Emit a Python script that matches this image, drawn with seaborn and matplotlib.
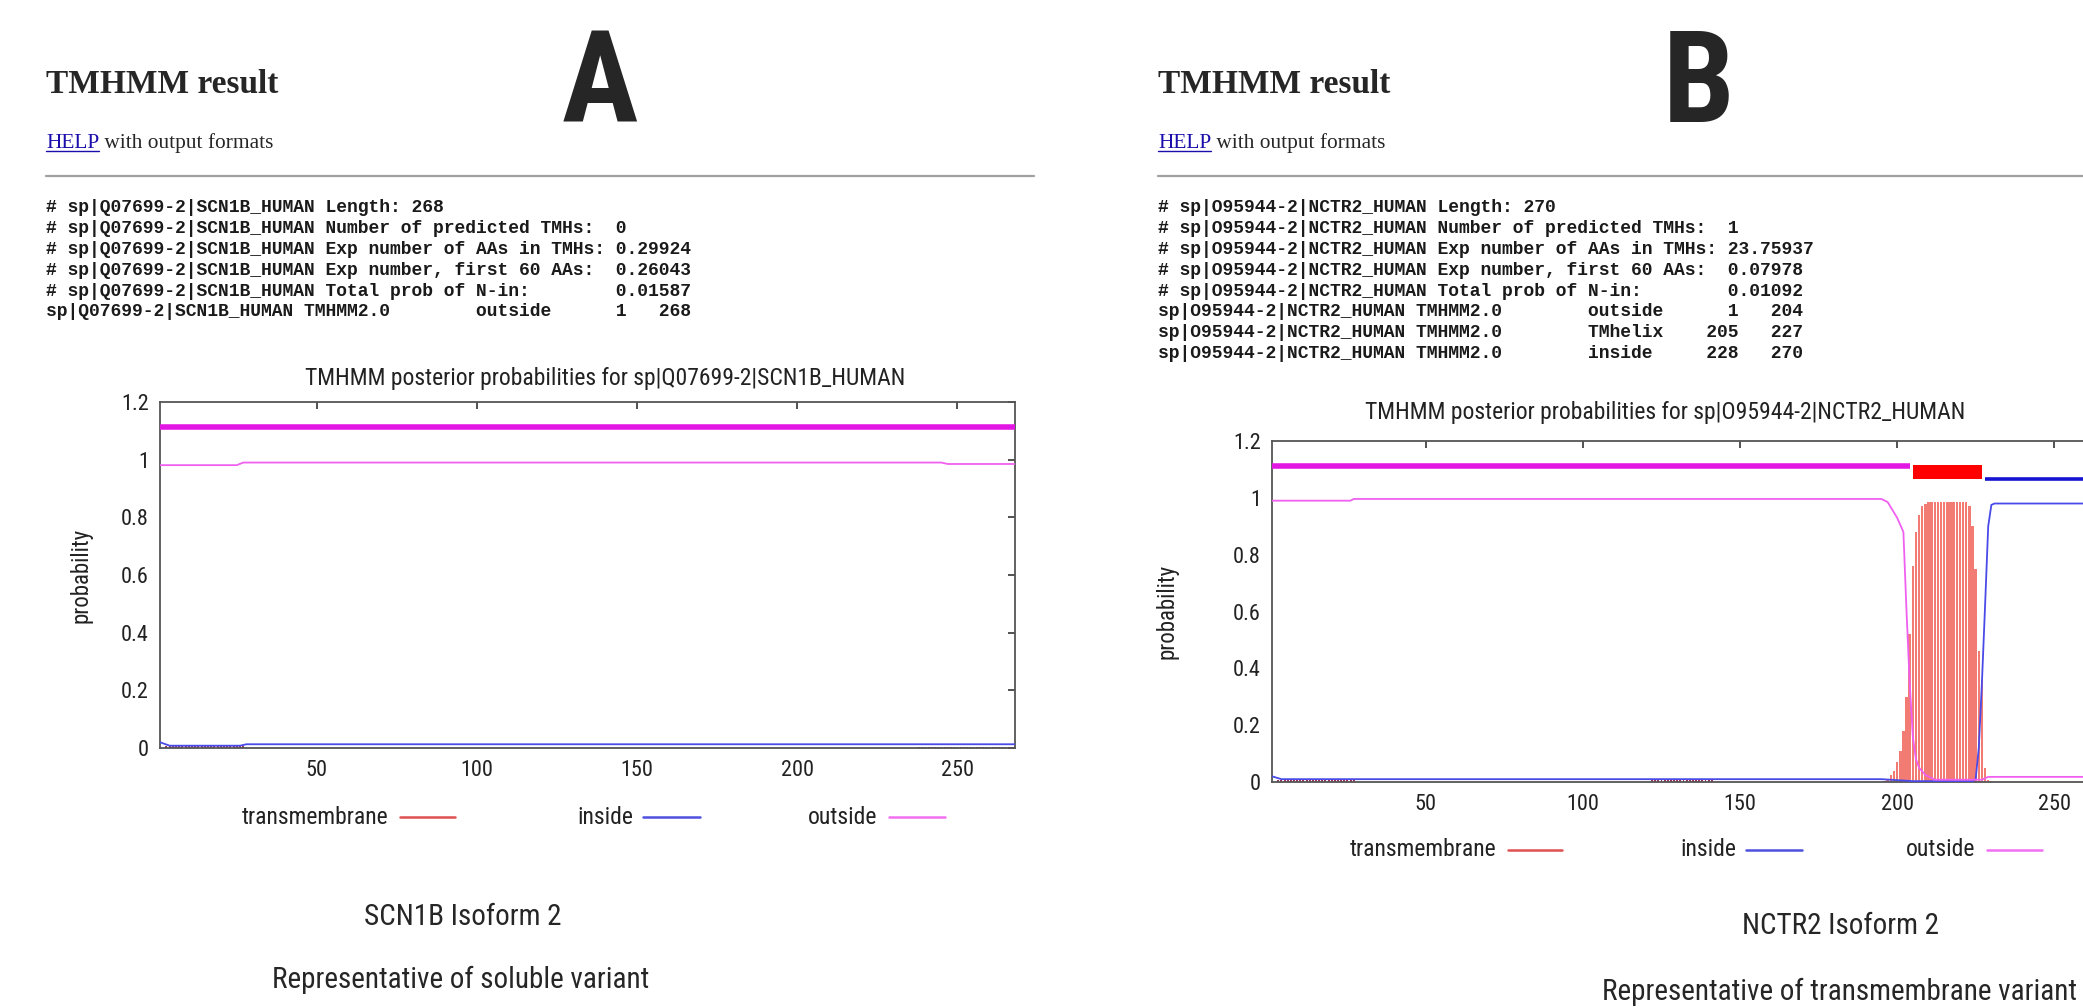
import numpy as np
import matplotlib.pyplot as plt
from matplotlib.lines import Line2D
import seaborn as sns

W, H = 2083, 1008

# ---------------- panel A : SCN1B isoform 2 (soluble) ----------------
a_name = "sp|Q07699-2|SCN1B_HUMAN"
a_len = 268
a_stats = ["Length: 268",
           "Number of predicted TMHs:  0",
           "Exp number of AAs in TMHs: 0.29924",
           "Exp number, first 60 AAs:  0.26043",
           "Total prob of N-in:        0.01587"]
a_topo = [("outside", 1, 268)]
a_out_x = [1, 25, 27, 245, 247, 268]
a_out_y = [0.981, 0.981, 0.990, 0.990, 0.985, 0.985]
a_in_x = [1, 4, 26, 28, 268]
a_in_y = [0.020, 0.008, 0.008, 0.013, 0.013]
a_tm_x = []
a_tm_y = []
a_tm_low = [(3, 27, 0.007), (238, 268, 0.005)]

# ---------------- panel B : NCTR2 isoform 2 (transmembrane) ----------------
b_name = "sp|O95944-2|NCTR2_HUMAN"
b_len = 270
b_stats = ["Length: 270",
           "Number of predicted TMHs:  1",
           "Exp number of AAs in TMHs: 23.75937",
           "Exp number, first 60 AAs:  0.07978",
           "Total prob of N-in:        0.01092"]
b_topo = [("outside", 1, 204), ("TMhelix", 205, 227), ("inside", 228, 270)]
b_out_x = [1, 26, 27, 195, 197, 200, 202, 203, 204, 205, 206, 207, 209, 212, 227, 229, 270]
b_out_y = [0.990, 0.990, 0.996, 0.996, 0.985, 0.93, 0.88, 0.60, 0.35, 0.16, 0.08, 0.05, 0.025, 0.008,
           0.008, 0.018, 0.018]
b_in_x = [1, 4, 195, 205, 224, 225, 226, 227, 228, 229, 230, 231, 270]
b_in_y = [0.020, 0.010, 0.010, 0.003, 0.003, 0.010, 0.12, 0.35, 0.62, 0.90, 0.975, 0.980, 0.980]
b_tm_x = list(range(196, 231))
b_tm_y = [0.005, 0.012, 0.025, 0.04, 0.07, 0.11, 0.18, 0.30, 0.52, 0.76, 0.88, 0.94, 0.97, 0.98,
          0.986, 0.986, 0.986, 0.986, 0.986, 0.986, 0.986, 0.986, 0.986, 0.986, 0.986, 0.986, 0.986,
          0.97, 0.90, 0.75, 0.46, 0.36, 0.05, 0.008, 0.003]
b_tm_low = [(3, 27, 0.006), (122, 141, 0.006)]

xticks = [50, 100, 150, 200, 250]
yticks = [0, 0.2, 0.4, 0.6, 0.8, 1.0, 1.2]
ytick_labels = ["0", "0.2", "0.4", "0.6", "0.8", "1", "1.2"]
legend_labels = ["transmembrane", "inside", "outside"]

sns.set_style("white")
plt.rcParams['font.family'] = ['Liberation Sans', 'DejaVu Sans']

fig = plt.figure(figsize=(W / 100, H / 100), dpi=100)

narrow = ["Roboto Condensed", "DejaVu Sans"]


def fx(x):
    return x / W


def fy(y):
    return 1 - y / H


def header(x0, letter, letter_x, name, stats, topo, rule_end):
    fig.text(fx(x0), fy(93), "TMHMM result", family="Liberation Serif", weight="bold",
             fontsize=24, va="baseline", ha="left")
    fig.text(fx(letter_x), fy(122), letter, family=narrow, weight="bold", fontsize=92,
             ha="center", va="baseline")
    t = fig.text(fx(x0), fy(148), "HELP", family="Liberation Serif", fontsize=15.4,
                 color="#1a0dab", va="baseline", ha="left")
    fig.canvas.draw()
    x1 = t.get_window_extent().x1
    fig.add_artist(Line2D([fx(x0), x1 / W], [fy(151), fy(151)], color="#1a0dab", lw=1))
    fig.text(x1 / W, fy(148), " with output formats", family="Liberation Serif", fontsize=15.4,
             va="baseline", ha="left")
    fig.add_artist(Line2D([fx(x0), fx(rule_end)], [fy(176), fy(176)], color="#a0a0a0", lw=1.6))
    lines = ["# " + name + " " + s for s in stats]
    for typ, s, e in topo:
        lines.append(f"{name:<24}{'TMHMM2.0':<16}{typ:<8}{s:>6}{e:>6}")
    for i, ln in enumerate(lines):
        fig.text(fx(x0), fy(208 + 20.8 * i), ln, family="Liberation Mono", fontsize=13,
                 weight="bold", va="center", ha="left", color="#1a1a1a")


def panel(rect, length, out_x, out_y, in_x, in_y, tm_x, tm_y, tm_low, topo, title, title_x,
          title_y, ylab_x):
    ax = fig.add_axes(rect)
    if tm_x:
        ax.bar(tm_x, tm_y, width=0.8, color="#f27b74", linewidth=0, zorder=2)
    for s, e, v in tm_low:
        xs = np.arange(s, e + 1)
        ax.bar(xs, [v] * len(xs), width=0.62, color="#a03050", linewidth=0, zorder=2)
    sns.lineplot(x=in_x, y=in_y, ax=ax, color="#4a4ae8", linewidth=1.3, zorder=3)
    sns.lineplot(x=out_x, y=out_y, ax=ax, color="#f060f0", linewidth=1.3, zorder=3)
    for typ, s, e in topo:
        if typ == "outside":
            ax.hlines(1.112, s, e, color="#e317e3", lw=4, zorder=4)
        elif typ == "inside":
            ax.hlines(1.068, s, e, color="#1414d2", lw=2.6, zorder=4)
        else:
            ax.bar((s + e) / 2, 0.047, bottom=1.068, width=e - s, color="#ff0000",
                   linewidth=0, zorder=4)
    ax.set_xlim(1, length)
    ax.set_ylim(0, 1.2)
    ax.set_xticks(xticks)
    ax.set_yticks(yticks)
    ax.set_yticklabels(ytick_labels)
    ax.tick_params(direction="in", top=True, right=True, length=5, width=1.2, color="#333333",
                   labelsize=16, labelfontfamily="Roboto Condensed", labelcolor="#222222")
    ax.tick_params(axis="x", pad=9)
    ax.tick_params(axis="y", pad=8)
    for sp in ax.spines.values():
        sp.set_color("#555555")
        sp.set_linewidth(1.3)
    ax.set_ylabel("probability", fontsize=16.5, family=narrow, color="#222222")
    ax.yaxis.set_label_coords(ylab_x, 0.5)
    ax.set_xlabel("")
    fig.text(fx(title_x), fy(title_y), title, family=narrow, fontsize=17, ha="center",
             va="center", color="#222222")
    return ax


header(46, "A", 600, a_name, a_stats, a_topo, 1034)
header(1158, "B", 1699, b_name, b_stats, b_topo, 2083)

ax_a = panel([fx(160), fy(748), (1015 - 160) / W, (748 - 402) / H], a_len,
             a_out_x, a_out_y, a_in_x, a_in_y, a_tm_x, a_tm_y, a_tm_low, a_topo,
             "TMHMM posterior probabilities for " + a_name, 605, 378, -0.079)
ax_b = panel([fx(1272), fy(782), (2117 - 1272) / W, (782 - 441) / H], b_len,
             b_out_x, b_out_y, b_in_x, b_in_y, b_tm_x, b_tm_y, b_tm_low, b_topo,
             "TMHMM posterior probabilities for " + b_name, 1665, 413, -0.111)

# legends (gnuplot style: label then line sample)
legend_colors = ["#e05050", "#5050e0", "#f070f0"]
for y, text_ends, segs in [
        (817, [388, 633, 877], [(400, 455), (643, 700), (889, 945)]),
        (850, [1496, 1736, 1975], [(1508, 1562), (1746, 1802), (1987, 2042)])]:
    for lab, te, (s, e), c in zip(legend_labels, text_ends, segs, legend_colors):
        fig.text(fx(te), fy(y), lab, family=narrow, fontsize=17, ha="right", va="center",
                 color="#222222")
        fig.add_artist(Line2D([fx(s), fx(e)], [fy(y), fy(y)], color=c, lw=1.8))

cap = dict(family=narrow, fontsize=21, ha="center", va="center")
fig.text(fx(463), fy(917), "SCN1B Isoform 2", **cap)
fig.text(fx(461), fy(980), "Representative of soluble variant", **cap)
fig.text(fx(1840), fy(926), "NCTR2 Isoform 2", **cap)
fig.text(fx(1840), fy(992), "Representative of transmembrane variant", **cap)

fig.savefig("out.png", dpi=100)
